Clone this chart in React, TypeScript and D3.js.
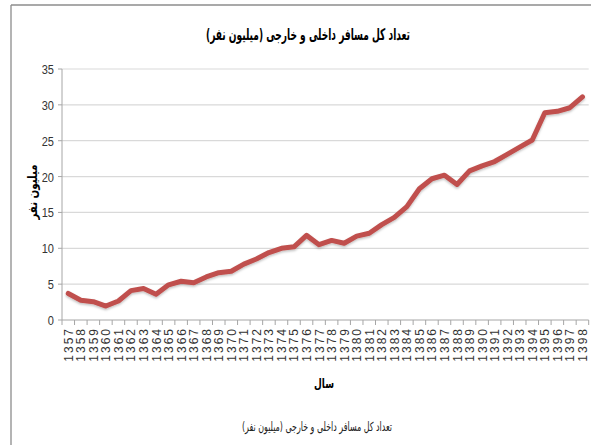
import React from "react";
import * as d3 from "d3";

const years = [
  "1357","1358","1359","1360","1361","1362","1363","1364","1365","1366","1367","1368","1369","1370",
  "1371","1372","1373","1374","1375","1376","1377","1378","1379","1380","1381","1382","1383","1384",
  "1385","1386","1387","1388","1389","1390","1391","1392","1393","1394","1395","1396","1397","1398",
];
const passengers = [
  3.7, 2.75, 2.55, 1.95, 2.65, 4.1, 4.4, 3.6, 4.9, 5.4, 5.2, 6.0, 6.6, 6.8,
  7.8, 8.5, 9.4, 10.0, 10.2, 11.8, 10.5, 11.1, 10.7, 11.7, 12.1, 13.3, 14.3, 15.8,
  18.3, 19.7, 20.2, 18.9, 20.8, 21.5, 22.1, 23.1, 24.1, 25.1, 28.9, 29.1, 29.6, 31.1,
];
const yTicks = [0, 5, 10, 15, 20, 25, 30, 35];
const title = "تعداد کل مسافر داخلی و خارجی (میلیون نفر)";
const yTitle = "میلیون نفر";
const xTitle = "سال";
const seriesName = "تعداد کل مسافر داخلی و خارجی (میلیون نفر)";

export default function App() {
  const W = 591, H = 445;
  const left = 62, right = 588.7, top = 69, bottom = 320;
  const x = d3.scaleBand<string>().domain(years).range([left, right]).padding(0);
  const y = d3.scaleLinear().domain([0, 35]).range([bottom, top]);
  const line = d3.line<number>()
    .x((_, i) => (x(years[i]) as number) + x.bandwidth() / 2)
    .y((d) => y(d))
    .curve(d3.curveLinear);
  const color = "#c0504d";
  const arabicFont = "'DejaVu Sans', sans-serif";
  const numFont = "'Liberation Sans', Arial, sans-serif";

  return (
    <svg width={W} height={H} style={{ position: "absolute", left: 0, top: 0, background: "#fff" }}>
      <defs>
        <filter id="sh" x="-5%" y="-5%" width="110%" height="120%">
          <feDropShadow dx="0" dy="1.5" stdDeviation="1" floodColor="#000" floodOpacity="0.25" />
        </filter>
      </defs>
      {/* frame */}
      <line x1={11} y1={5} x2={W} y2={5} stroke="#8c8c8c" strokeWidth={1.3} />
      <line x1={11} y1={5} x2={11} y2={H} stroke="#8c8c8c" strokeWidth={1.3} />

      {/* title */}
      <text x={308} y={40} textAnchor="middle" fontFamily={arabicFont} fontWeight="bold" fontSize={16}
        textLength={204} lengthAdjust="spacingAndGlyphs" direction="rtl">{title}</text>

      {/* gridlines */}
      {yTicks.filter((t) => t > 0).map((t) => (
        <line key={t} x1={left} x2={right} y1={y(t)} y2={y(t)} stroke="#d9d9d9" strokeWidth={1.2} />
      ))}
      {/* y axis */}
      <line x1={left} x2={left} y1={top} y2={bottom} stroke="#a6a6a6" />
      {yTicks.map((t) => (
        <g key={t}>
          <line x1={left - 4} x2={left} y1={y(t)} y2={y(t)} stroke="#a6a6a6" />
          <text x={left - 8} y={y(t) + 5} textAnchor="end" fontFamily={numFont} fontSize={13} fill="#333"
            transform={`translate(${left - 8},0) scale(0.85,1) translate(${-(left - 8)},0)`}>{t}</text>
        </g>
      ))}
      {/* x axis */}
      <line x1={left} x2={right} y1={bottom} y2={bottom} stroke="#a6a6a6" />
      {years.map((yr, i) => (
        <line key={"t" + yr} x1={left + i * x.bandwidth()} x2={left + i * x.bandwidth()} y1={bottom} y2={bottom + 5} stroke="#a6a6a6" />
      ))}
      <line x1={right} x2={right} y1={bottom} y2={bottom + 5} stroke="#a6a6a6" />
      {years.map((yr) => {
        const cx = (x(yr) as number) + x.bandwidth() / 2;
        return (
          <text key={yr} transform={`translate(${cx + 4.5},${bottom + 7}) rotate(-90)`} textAnchor="end"
            fontFamily={numFont} fontSize={12} letterSpacing={2} fill="#333">{yr}</text>
        );
      })}

      {/* axis titles */}
      <text transform={`translate(37,192) rotate(-90)`} textAnchor="middle" fontFamily={arabicFont} fontWeight="bold"
        fontSize={13} textLength={55} lengthAdjust="spacingAndGlyphs" direction="rtl">{yTitle}</text>
      <text x={324} y={388} textAnchor="middle" fontFamily={arabicFont} fontWeight="bold" fontSize={13}
        textLength={20} lengthAdjust="spacingAndGlyphs" direction="rtl">{xTitle}</text>

      {/* series */}
      <path d={line(passengers) ?? ""} fill="none" stroke={color} strokeWidth={5} strokeLinejoin="round" strokeLinecap="round" filter="url(#sh)" />

      {/* legend */}
      <line x1={222} x2={239} y1={426} y2={426} stroke={color} strokeWidth={5} strokeLinecap="round" filter="url(#sh)" />
      <text x={317} y={431} textAnchor="middle" fontFamily={arabicFont} fontSize={12.5} textLength={150}
        lengthAdjust="spacingAndGlyphs" direction="rtl" fill="#222">{seriesName}</text>
    </svg>
  );
}
